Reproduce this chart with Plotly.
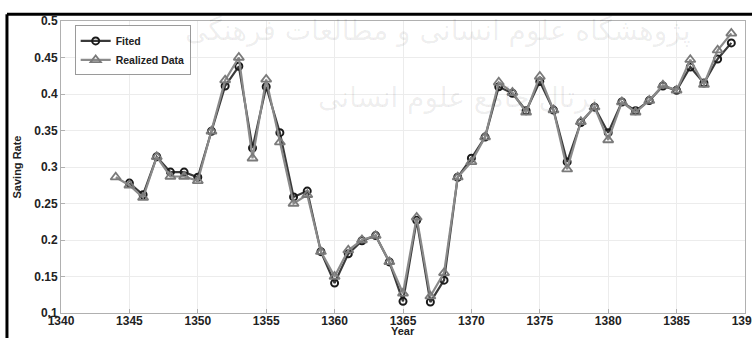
import plotly.graph_objects as go

years = list(range(1344, 1390))
fitted = [None, 0.278, 0.262, 0.314, 0.293, 0.293, 0.286, 0.349, 0.411, 0.438,
          0.326, 0.410, 0.347, 0.259, 0.267, 0.184, 0.141, 0.181, 0.199, 0.206,
          0.170, 0.116, 0.227, 0.115, 0.145, 0.286, 0.312, 0.341, 0.410, 0.401,
          0.377, 0.417, 0.378, 0.307, 0.361, 0.382, 0.347, 0.389, 0.377, 0.391,
          0.411, 0.405, 0.437, 0.415, 0.448, 0.470]
realized = [0.286, 0.275, 0.258, 0.314, 0.287, 0.287, 0.281, 0.349, 0.419, 0.450,
            0.312, 0.420, 0.334, 0.250, 0.262, 0.184, 0.150, 0.186, 0.200, 0.206,
            0.170, 0.127, 0.231, 0.123, 0.155, 0.286, 0.307, 0.341, 0.416, 0.402,
            0.375, 0.424, 0.378, 0.297, 0.362, 0.382, 0.337, 0.389, 0.375, 0.391,
            0.412, 0.405, 0.447, 0.413, 0.460, 0.483]

x_ticks = list(range(1340, 1391, 5))
y_ticks = [0.1, 0.15, 0.2, 0.25, 0.3, 0.35, 0.4, 0.45, 0.5]
y_labels = ["0.1", "0.15", "0.2", "0.25", "0.3", "0.35", "0.4", "0.45", "0.5"]

FONT = "Liberation Sans, Arial, sans-serif"

fig = go.Figure()
fig.add_trace(go.Scatter(
    x=years, y=fitted, name="<b>Fited</b>", mode="lines+markers",
    line=dict(color="#3a3a3a", width=2.2),
    marker=dict(symbol="circle-open", size=7, color="#1a1a1a", line=dict(width=2)),
    connectgaps=False))
fig.add_trace(go.Scatter(
    x=years, y=realized, name="<b>Realized Data</b>", mode="lines+markers",
    line=dict(color="#8a8a8a", width=2.2),
    marker=dict(symbol="triangle-up-open", size=9, color="#7a7a7a", line=dict(width=1.8))))

fig.update_layout(
    width=752, height=338,
    margin=dict(l=61, r=7, t=21, b=25),
    paper_bgcolor="white", plot_bgcolor="white",
    font=dict(family=FONT, size=12, color="#222222"),
    showlegend=True,
    legend=dict(x=0.02, y=0.985, xanchor="left", yanchor="top",
                bgcolor="rgba(255,255,255,0.9)", bordercolor="#9a9a9a", borderwidth=1,
                font=dict(family=FONT, size=10.5, color="#222222"),
                tracegroupgap=0, itemwidth=30),
    xaxis=dict(range=[1340, 1390], tickvals=x_ticks,
               ticktext=["<b>%d</b>" % v for v in x_ticks],
               ticklabeloverflow="allow", automargin=False, ticklabelstandoff=-3,
               showgrid=True, gridcolor="#ececec", gridwidth=1,
               showline=True, linecolor="#b0b0b0", linewidth=1, mirror=True,
               ticks="inside", ticklen=4, tickcolor="#b0b0b0",
               tickfont=dict(family=FONT, size=12, color="#222222"),
               zeroline=False),
    yaxis=dict(range=[0.1, 0.5], tickvals=y_ticks,
               ticktext=["<b>%s</b>" % s for s in y_labels],
               automargin=False,
               showgrid=True, gridcolor="#ececec", gridwidth=1,
               showline=True, linecolor="#b0b0b0", linewidth=1, mirror=True,
               ticks="inside", ticklen=4, tickcolor="#b0b0b0",
               tickfont=dict(family=FONT, size=12, color="#222222"),
               title=dict(text="<b>Saving Rate</b>", standoff=10,
                          font=dict(family=FONT, size=11, color="#222222")),
               zeroline=False),
)

# x-axis title placed tight under the tick labels
fig.add_annotation(text="<b>Year</b>", xref="paper", yref="paper",
                   x=0.5, y=-0.063, yanchor="middle", showarrow=False,
                   font=dict(family=FONT, size=11, color="#222222"))

# faint scanned watermark text
fig.add_annotation(text="پژوهشگاه علوم انسانی و مطالعات فرهنگی", xref="paper", yref="paper",
                   x=0.55, y=1.03, showarrow=False,
                   font=dict(family="DejaVu Sans", size=28, color="rgba(0,0,0,0.07)"))
fig.add_annotation(text="پرتال جامع علوم انسانی", xref="paper", yref="paper",
                   x=0.58, y=0.80, showarrow=False,
                   font=dict(family="DejaVu Sans", size=28, color="rgba(0,0,0,0.07)"))

# black scan frame
fig.add_shape(type="line", xref="paper", yref="paper", x0=-0.079, x1=1.02, y0=1.023, y1=1.023,
              line=dict(color="black", width=3))
fig.add_shape(type="line", xref="paper", yref="paper", x0=-0.079, x1=-0.079, y0=-0.1, y1=1.023,
              line=dict(color="black", width=3))

fig.write_html("out.html", config={"displayModeBar": False},
               post_script="document.body.style.margin='0px';document.body.style.overflow='hidden';")
